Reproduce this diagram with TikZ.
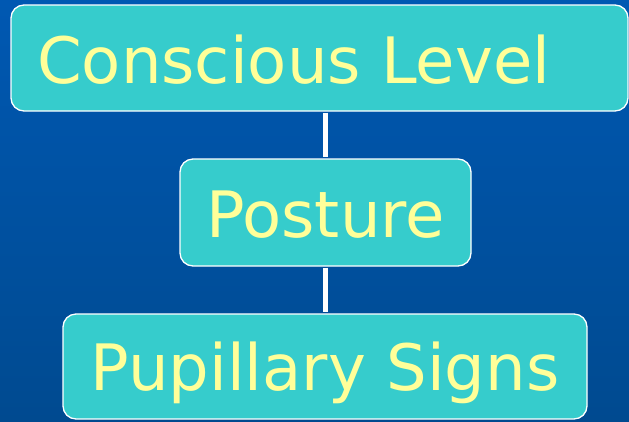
\documentclass[tikz,border=0pt]{standalone}
\usepackage{fontspec}
\setmainfont{DejaVu Sans}
\definecolor{bgtop}{HTML}{0058B2}
\definecolor{bgbot}{HTML}{004A90}
\definecolor{boxfill}{HTML}{36CCCC}
\definecolor{txt}{HTML}{FFFF99}
\begin{document}
\begin{tikzpicture}[x=1pt,y=-1pt,
  box/.style={draw=white,line width=1.3pt,fill=boxfill,rounded corners=13pt,inner sep=0pt},
  lbl/.style={anchor=base,text=txt,inner sep=0pt,font=\fontsize{64}{70}\selectfont},
  link/.style={draw=white,line width=5pt}]
\useasboundingbox (0,0) rectangle (629,421);
\shade[top color=bgtop,bottom color=bgbot] (0,0) rectangle (629,421);
\node[box,minimum width=617pt,minimum height=106pt] (b1) at (319.5,58) {};
\node[box,minimum width=291pt,minimum height=107pt] (b2) at (325.5,212.5) {};
\node[box,minimum width=524pt,minimum height=105pt] (b3) at (325,366.5) {};
\draw[link] ([yshift=-1pt]b2.north |- b1.south) -- ([yshift=1pt]b2.north);
\draw[link] ([yshift=-1pt]b2.south) -- ([yshift=1pt]b2.south |- b3.north);
\node[lbl,anchor=base west] (t1) at (37,83) {Conscious Level};
\node[lbl] (t2) at (325.5,237.5) {Posture};
\node[lbl] (t3) at (325,390) {Pupillary Signs};
\end{tikzpicture}
\end{document}
